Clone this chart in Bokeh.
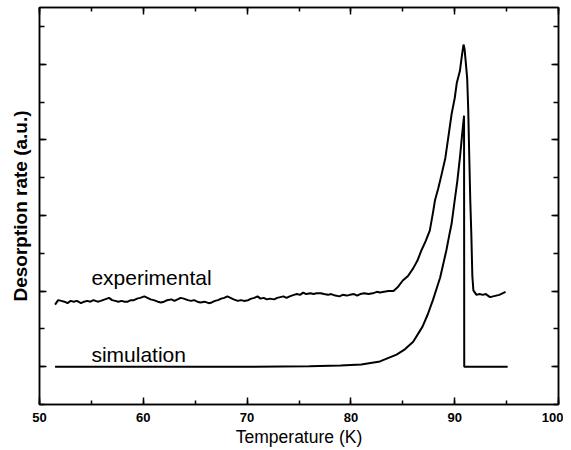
from bokeh.plotting import figure
from bokeh.models import LinearAxis, SingleIntervalTicker, Label, Range1d, CustomJSTickFormatter
from bokeh.embed import file_html
from bokeh.resources import INLINE

# ---- data ----
exp_T = [51.5, 51.8, 52.1, 52.4, 52.7, 53.0, 53.3, 53.6, 54.0, 54.3, 54.6, 54.9, 55.2, 55.6,
         55.9, 56.3, 56.7, 57.0, 57.3, 57.6, 57.9, 58.2, 58.5, 58.8, 59.1, 59.4, 59.7, 60.1,
         60.4, 60.7, 61.0, 61.4, 61.7, 62.0, 62.3, 62.7, 63.0, 63.3, 63.6, 63.9, 64.3, 64.6,
         64.9, 65.2, 65.5, 65.9, 66.3, 66.6, 66.9, 67.2, 67.5, 67.8, 68.1, 68.4, 68.7, 69.1,
         69.4, 69.7, 70.1, 70.4, 70.7, 71.0, 71.3, 71.6, 71.9, 72.2, 72.6, 72.9, 73.2, 73.5,
         73.8, 74.1, 74.5, 74.8, 75.1, 75.4, 75.7, 76.1, 76.4, 76.7, 77.1, 77.4, 77.8, 78.1,
         78.5, 78.9, 79.2, 79.6, 79.9, 80.3, 80.6, 80.9, 81.3, 81.7, 82.1, 82.5, 82.8,
         83.2, 83.6, 84.1, 84.5, 85.0, 85.5, 86.0, 86.4, 86.8, 87.2, 87.6, 87.9, 88.1, 88.4,
         88.7, 89.1, 89.4, 89.7, 90.0, 90.2, 90.5, 90.7, 90.85, 90.95, 91.05, 91.2, 91.3,
         91.4, 91.5, 91.6, 91.7, 91.8, 92.1, 92.4, 92.7, 93.0, 93.4, 93.7, 94.0, 94.3, 94.6,
         94.9]
exp_rate = [0.82, 0.88, 0.87, 0.86, 0.84, 0.87, 0.86, 0.87, 0.84, 0.86, 0.87, 0.86, 0.88, 0.86,
            0.87, 0.89, 0.91, 0.88, 0.87, 0.86, 0.87, 0.86, 0.86, 0.88, 0.88, 0.90, 0.91, 0.93,
            0.91, 0.89, 0.88, 0.86, 0.85, 0.86, 0.88, 0.89, 0.87, 0.89, 0.91, 0.90, 0.88, 0.87,
            0.88, 0.86, 0.85, 0.86, 0.84, 0.85, 0.87, 0.88, 0.90, 0.91, 0.93, 0.91, 0.89, 0.87,
            0.88, 0.87, 0.88, 0.90, 0.91, 0.93, 0.90, 0.91, 0.89, 0.90, 0.89, 0.91, 0.92, 0.93,
            0.91, 0.93, 0.95, 0.96, 0.95, 0.98, 0.96, 0.97, 0.96, 0.97, 0.97, 0.96, 0.95, 0.96,
            0.94, 0.93, 0.95, 0.94, 0.95, 0.96, 0.94, 0.96, 0.97, 0.96, 0.97, 0.99, 0.98,
            0.99, 1.00, 1.00, 1.05, 1.14, 1.20, 1.30, 1.40, 1.54, 1.66, 1.80, 2.03, 2.20, 2.35,
            2.52, 2.76, 3.05, 3.34, 3.55, 3.75, 3.91, 4.12, 4.26, 4.20, 4.05, 3.82, 3.42,
            2.80, 2.20, 1.76, 1.20, 1.01, 0.95, 0.96, 0.95, 0.96, 0.92, 0.93, 0.94, 0.95, 0.97,
            0.99]

sim_T = [51.5, 70.0, 76.0, 79.0, 81.0, 82.8, 84.4, 85.2, 86.0, 86.9, 87.4, 87.9, 88.6,
         89.2, 89.45, 89.7, 90.0, 90.25, 90.5, 90.7, 90.9, 90.92, 95.1]
sim_rate = [0.0, 0.0, 0.005, 0.015, 0.03, 0.07, 0.16, 0.23, 0.33, 0.53, 0.69, 0.88, 1.18,
            1.54, 1.72, 1.89, 2.20, 2.45, 2.76, 3.05, 3.32, 0.0, 0.0]

x_ticks_interval = 10
y_ticks_interval = 1
x_lim = (50, 100)
y_lim = (-0.5, 4.75)

labels = ["experimental", "simulation"]
label_T = [55.0, 55.0]
label_rate = [1.18, 0.165]

FONT = "Liberation Sans"

p = figure(width=563, height=449, output_backend="svg", toolbar_location=None,
           x_range=Range1d(*x_lim), y_range=Range1d(*y_lim),
           min_border_left=39, min_border_right=5, min_border_top=7, min_border_bottom=0,
           background_fill_color="white", border_fill_color="white")
p.grid.visible = False
p.outline_line_color = "black"
p.outline_line_width = 1.5

bottom = p.below[0]
left = p.left[0]

xt = SingleIntervalTicker(interval=x_ticks_interval, num_minor_ticks=2)
yt = SingleIntervalTicker(interval=y_ticks_interval, num_minor_ticks=2)
bottom.ticker = xt
left.ticker = yt

top = LinearAxis(ticker=xt)
right = LinearAxis(ticker=yt)
p.add_layout(top, "above")
p.add_layout(right, "right")

for ax in [bottom, left, top, right]:
    ax.axis_line_color = "black"
    ax.axis_line_width = 1.5
    ax.major_tick_line_color = "black"
    ax.minor_tick_line_color = "black"
    ax.major_tick_line_width = 1.5
    ax.minor_tick_line_width = 1.5
    ax.major_tick_in = 7
    ax.major_tick_out = 0
    ax.minor_tick_out = 0

bottom.minor_tick_in = 4
top.minor_tick_in = 4
left.minor_tick_in = 5
right.minor_tick_in = 5

for ax in [left, top, right]:
    ax.formatter = CustomJSTickFormatter(code="return ''")
    ax.major_label_standoff = 0

bottom.major_label_text_font = FONT
bottom.major_label_text_font_style = "bold"
bottom.major_label_text_font_size = "13px"
bottom.major_label_text_color = "black"
bottom.major_label_standoff = 8
bottom.axis_label = "Temperature (K)"
bottom.axis_label_text_font = FONT
bottom.axis_label_text_font_style = "normal"
bottom.axis_label_text_font_size = "17.5px"
bottom.axis_label_text_color = "black"
bottom.axis_label_standoff = 2

left.axis_label = "Desorption rate (a.u.)"
left.axis_label_text_font = FONT
left.axis_label_text_font_style = "bold"
left.axis_label_text_font_size = "19px"
left.axis_label_text_color = "black"
left.axis_label_standoff = 9

p.line(exp_T, exp_rate, line_color="black", line_width=2)
p.line(sim_T, sim_rate, line_color="black", line_width=2)

for txt, tx, ty in zip(labels, label_T, label_rate):
    p.add_layout(Label(x=tx, y=ty, text=txt, text_font=FONT, text_font_size="21px",
                       text_color="black", text_baseline="alphabetic", text_align="left"))

open("out.html", "w").write(file_html(p, INLINE))
